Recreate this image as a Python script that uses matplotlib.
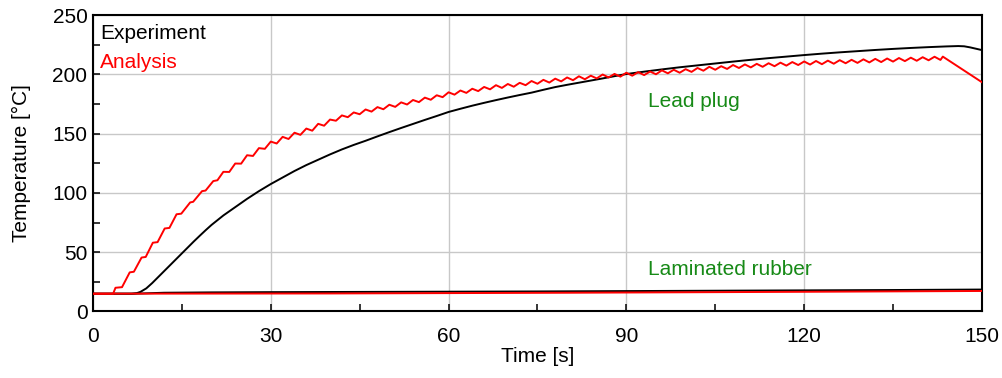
import matplotlib
matplotlib.use("Agg")
import matplotlib.pyplot as plt
from matplotlib.ticker import MultipleLocator

plt.rcParams['font.family'] = ['Liberation Sans', 'DejaVu Sans']

# ---- data ----
exp_plug_t = [0, 6.5, 7.4, 8, 9, 10, 11, 12, 13, 14, 15, 16, 17, 18, 19, 20, 22, 24, 26, 28,
              30, 32, 34, 36, 38, 40, 42, 44, 46, 48, 50, 52, 54, 56, 58, 60, 62, 64, 66, 68,
              70, 72, 74, 76, 78, 80, 82, 84, 86, 88, 90, 93, 96, 99, 102, 105, 108, 111,
              114, 117, 120, 123, 126, 129, 132, 135, 138, 141, 144, 146, 147, 148, 150]
exp_plug_T = [15, 15, 15.5, 16.5, 19.5, 24, 29, 34, 39, 44, 49, 54, 59, 63.8, 68.5, 73, 81,
              88, 95, 101.5, 107.5, 113, 118.5, 123.5, 128, 132.5, 136.7, 140.5, 144, 147.7,
              151.3, 154.8, 158.2, 161.6, 164.9, 168.3, 171, 173.6, 176, 178.3, 180.5, 182.6,
              184.6, 187.0, 189.3, 191.2, 193, 194.8, 196.6, 198.5, 200.3, 202.3, 204.2, 206,
              207.6, 209.2, 210.8, 212.3, 213.7, 215.0, 216.3, 217.5, 218.6, 219.6, 220.6,
              221.5, 222.3, 223.0, 223.6, 223.9, 223.7, 222.8, 220.5]

ana_plug_t = [0, 3.4, 3.8, 4.9, 6.2, 6.9, 8.2, 8.9, 10.1, 10.9, 12.1, 12.9, 14.1, 14.9,
              16.4, 16.9, 18.4, 19.0, 20.3,
              21, 22, 23, 24, 25, 26, 27, 28, 29, 30, 31, 32, 33, 34, 35, 36, 37, 38, 39, 40,
              41, 42, 43, 44, 45, 46, 47, 48, 49, 50, 51, 52, 53, 54, 55, 56, 57, 58, 59, 60,
              61, 62, 63, 64, 65, 66, 67, 68, 69, 70, 71, 72, 73, 74, 75, 76, 77, 78, 79, 80,
              81, 82, 83, 84, 85, 86, 87, 88, 89, 90, 91, 92, 93, 94, 95, 96, 97, 98, 99, 100,
              101, 102, 103, 104, 105, 106, 107, 108, 109, 110, 111, 112, 113, 114, 115, 116,
              117, 118, 119, 120, 121, 122, 123, 124, 125, 126, 127, 128, 129, 130, 131, 132,
              133, 134, 135, 136, 137, 138, 139, 140, 141, 142, 143, 143.4, 150]
ana_plug_T = [15, 15, 20, 20.5, 33, 33.5, 45.5, 46, 58, 58.5, 70, 70.5, 82, 82.5,
              92, 92.5, 101.5, 102, 110,
              110.7, 117.8, 117.7, 124.8, 124.7, 131.8, 131.2, 137.8, 137.2, 143.3,
              141.7, 147.3, 145.5, 150.8, 149.0, 154.3, 152.5, 158.3, 156.7, 161.9,
              160.9, 165.4, 163.9, 167.9, 166.4, 170.4, 168.6, 172.4, 170.6, 174.4,
              172.6, 176.4, 174.6, 178.4, 176.6, 180.4, 178.6, 182.4, 180.8, 184.9,
              182.9, 186.4, 184.4, 187.9, 185.9, 189.4, 187.4, 190.9, 188.6, 191.9,
              189.6, 192.9, 190.9, 194.4, 192.1, 195.4, 193.1, 196.4, 194.1, 197.4,
              195.1, 198.4, 195.9, 198.9, 196.6, 199.9, 197.4, 200.4, 198.1, 201.4,
              198.9, 201.9, 199.4, 202.4, 200.1, 203.4, 200.9, 203.9, 201.4, 204.4,
              202.1, 205.4, 203.1, 206.4, 203.9, 206.9, 204.6, 207.9, 205.4, 208.4,
              205.9, 208.9, 206.4, 209.4, 206.9, 209.9, 207.4, 210.4, 207.9, 210.9,
              208.3, 211.3, 208.6, 211.6, 209.0, 212.0, 209.4, 212.3, 209.7, 212.7,
              210.1, 213.1, 210.4, 213.4, 210.8, 213.8, 211.2, 214.1, 211.5, 214.5,
              211.9, 214.9, 212.2, 215.0, 193.4]

exp_rub_t = [0, 7, 12, 20, 30, 45, 60, 75, 90, 105, 120, 135, 150]
exp_rub_T = [15, 15, 15.8, 16.1, 16.3, 16.5, 16.7, 16.9, 17.2, 17.5, 17.8, 18.1, 18.5]

ana_rub_t = [0, 40, 80, 120, 150]
ana_rub_T = [15, 15.2, 15.8, 16.6, 17.3]

x_ticks = [0, 30, 60, 90, 120, 150]
y_ticks = [0, 50, 100, 150, 200, 250]

FS = 15

# ---- figure ----
fig = plt.figure(figsize=(10.03, 3.78), dpi=100)
ax = fig.add_axes([0.0927, 0.176, 0.8863, 0.784])

ax.plot(exp_rub_t, exp_rub_T, color='black', lw=1.4, zorder=3)
ax.plot(ana_rub_t, ana_rub_T, color='red', lw=1.4, zorder=4)
ax.plot(exp_plug_t, exp_plug_T, color='black', lw=1.4, zorder=3)
ax.plot(ana_plug_t, ana_plug_T, color='red', lw=1.4, zorder=4)

ax.set_xlim(0, 150)
ax.set_ylim(0, 250)
ax.set_xticks(x_ticks)
ax.set_yticks(y_ticks)
ax.xaxis.set_minor_locator(MultipleLocator(15))
ax.yaxis.set_minor_locator(MultipleLocator(25))
ax.tick_params(which='both', direction='in', length=5, width=1.1, labelsize=FS,
               top=False, right=False)
ax.tick_params(axis='x', which='major', pad=11)
ax.tick_params(axis='y', which='major', pad=4)
ax.grid(True, which='major', color='#c8c8c8', lw=1.0)
ax.set_axisbelow(True)
for s in ax.spines.values():
    s.set_linewidth(1.5)

ax.set_xlabel('Time [s]', fontsize=FS, labelpad=1)
ax.set_ylabel('Temperature [°C]', fontsize=FS, labelpad=15)

ax.text(0.008, 0.939, 'Experiment', transform=ax.transAxes, fontsize=FS,
        color='black', va='center', ha='left')
ax.text(0.008, 0.841, 'Analysis', transform=ax.transAxes, fontsize=FS,
        color='red', va='center', ha='left')
ax.text(93.6, 177.5, 'Lead plug', fontsize=FS, color='#178a17', va='center', ha='left')
ax.text(93.6, 35, 'Laminated rubber', fontsize=FS, color='#178a17', va='center', ha='left')

fig.savefig('out.png', dpi=100)
